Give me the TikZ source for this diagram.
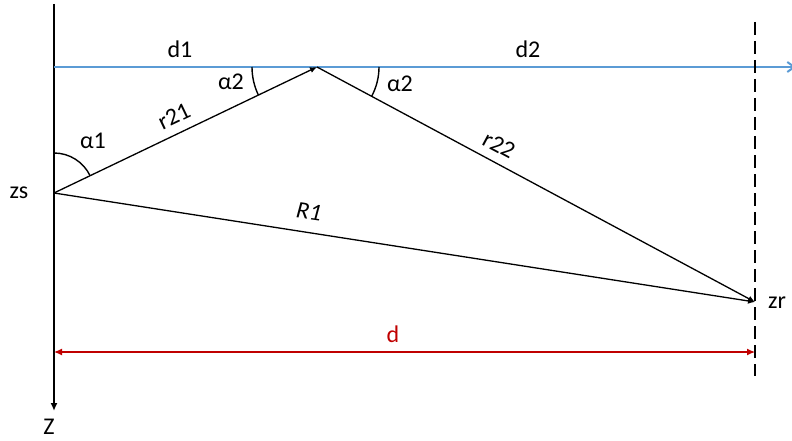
\documentclass[tikz,border=0pt]{standalone}
\usepackage{fontspec}
\setmainfont{Carlito}
\usetikzlibrary{arrows.meta}
\definecolor{seablue}{RGB}{91,155,213}
\definecolor{darkred}{RGB}{192,0,0}
\tikzset{
  lbl/.style={font=\fontsize{24}{28}\selectfont, inner sep=0pt},
  ray/.style={line width=1.3pt, -{Latex[length=7pt,width=6pt]}},
  angarc/.style={line width=1.4pt},
}
\begin{document}
\begin{tikzpicture}[x=1pt,y=-1pt]
\useasboundingbox (0,0) rectangle (792,441);
\coordinate (Atop) at (54,4);
\coordinate (Abot) at (54,411);
\coordinate (Bl) at (54,67);
\coordinate (Br) at (796,67);
\coordinate (Dtop) at (755,22);
\coordinate (Dbot) at (755,376);
\coordinate (zs) at (54,193);
\coordinate (P) at (317,67);
\coordinate (zr) at (755,302);
\coordinate (dl) at (54,352);
\coordinate (dr) at (755,352);
% axes
\draw[line width=2pt, -{Latex[length=8pt,width=7pt]}] (Atop) -- (Abot);
\draw[seablue, line width=2pt, -{Straight Barb[length=7pt,width=10pt]}] (Bl) -- (Br);
\draw[line width=2pt, dash pattern=on 13pt off 6pt] (Dtop) -- (Dbot);
% rays
\draw[ray] (zs) -- (P);
\draw[ray] (P) -- (zr);
\draw[ray] (zs) -- (zr);
% distance
\draw[darkred, line width=1.2pt, {Latex[length=8pt,width=7pt]}-{Latex[length=8pt,width=7pt]}] (dl) -- (dr);
% angle arcs
\draw[angarc] ([shift={(0,-40)}]zs) arc[start angle=90, end angle=25.6, radius=40pt];
\draw[angarc] ([shift={(-65,0)}]P) arc[start angle=180, end angle=205.6, radius=65pt];
\draw[angarc] ([shift={(62,0)}]P) arc[start angle=0, end angle=-28.2, radius=62pt];
% labels
\node[lbl] (d1) at (180,49) {d1};
\node[lbl] (d2) at (528,49) {d2};
\node[lbl] (a2l) at (231,82) {α2};
\node[lbl] (a2r) at (400,84) {α2};
\node[lbl] (a1) at (93,141) {α1};
\node[lbl, rotate=25.6] (r21) at (174,116) {r21};
\node[lbl, rotate=-28.2] (r22) at (499,145) {r22};
\node[lbl, rotate=-8] (R1) at (309,212) {\itshape R1};
\node[lbl] (zsl) at (19,193) {zs};
\node[lbl] (zrl) at (777,303) {zr};
\node[lbl, text=darkred] (dlab) at (393,334) {d};
\node[lbl] (Zl) at (49,427) {Z};
\end{tikzpicture}
\end{document}
